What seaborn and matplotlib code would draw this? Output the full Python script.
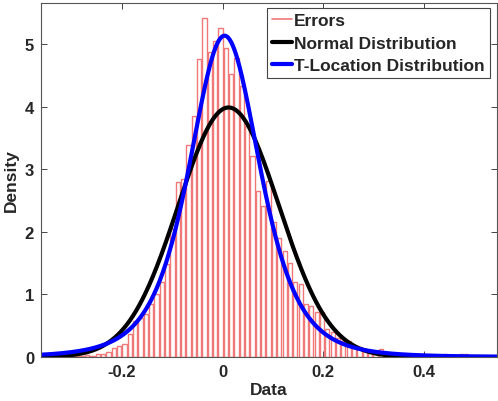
import numpy as np
import pandas as pd
import matplotlib
matplotlib.use("Agg")
import matplotlib.pyplot as plt
import seaborn as sns
from math import gamma, sqrt, pi
from matplotlib.lines import Line2D

# ---- data -----------------------------------------------------------
bin_width = 0.0106
first_center = -0.0357 - 30 * bin_width
hist_density = [
    0.0, 0.0, 0.0, 0.01, 0.01, 0.02, 0.02,            # -0.354 .. -0.290
    0.02, 0.03, 0.02, 0.05, 0.04, 0.08, 0.15, 0.18,   # -0.280 .. -0.205
    0.20, 0.37, 0.58, 0.62, 0.68, 0.85, 1.00, 1.20,   # -0.195 .. -0.120
    1.48, 2.05, 2.80, 2.85, 3.39, 3.86, 4.77, 5.42,   # -0.110 .. -0.036
    4.88, 5.05, 5.26, 4.94, 4.53, 4.78, 4.34, 3.70,   # -0.025 .. 0.049
    3.22, 2.66, 2.42, 2.82, 2.16, 1.90, 1.70, 1.50,   # 0.060 .. 0.134
    1.20, 1.17, 0.85, 0.82, 0.72, 0.72, 0.45, 0.40,   # 0.145 .. 0.219
    0.30, 0.26, 0.26, 0.18, 0.16, 0.10, 0.08, 0.06,   # 0.229 .. 0.303
    0.12, 0.05, 0.03, 0.03, 0.02, 0.02, 0.01, 0.01,   # 0.314 .. 0.388
    0.02, 0.01, 0.01, 0.02, 0.05, 0.01, 0.02, 0.04,   # 0.399 .. 0.473
    0.05, 0.01, 0.01, 0.02, 0.01, 0.01,               # 0.483 .. 0.536
]
centers = first_center + bin_width * np.arange(len(hist_density))
bin_lo = float(centers[0] - bin_width / 2)
bin_hi = float(centers[-1] + bin_width / 2)

# fitted distribution parameters
normal_mu, normal_sigma = 0.012, 0.100
t_mu, t_sigma, t_nu = 0.004, 0.073, 4.0

x_min, x_max = -0.3605, 0.545
x_grid = np.linspace(x_min, x_max, 600)
normal_pdf = np.exp(-0.5 * ((x_grid - normal_mu) / normal_sigma) ** 2) / (normal_sigma * sqrt(2 * pi))
t_const = gamma((t_nu + 1) / 2) / (t_sigma * sqrt(t_nu * pi) * gamma(t_nu / 2))
t_pdf = t_const * (1 + ((x_grid - t_mu) / t_sigma) ** 2 / t_nu) ** (-(t_nu + 1) / 2)

x_ticks = [-0.2, 0, 0.2, 0.4]
x_tick_labels = ["-0.2", "0", "0.2", "0.4"]
y_ticks = [0, 1, 2, 3, 4, 5]
legend_labels = ["Errors", "Normal Distribution", "T-Location Distribution"]

# ---- plot -----------------------------------------------------------
sns.set_theme(style="white")
plt.rcParams["font.family"] = ["Liberation Sans", "DejaVu Sans"]
plt.rcParams["axes.unicode_minus"] = False

fig = plt.figure(figsize=(4.98, 4.02), dpi=100)
ax = fig.add_axes([41 / 498, 44 / 402, 456 / 498, 354 / 402])

hist_df = pd.DataFrame({"Data": centers, "w": np.asarray(hist_density, dtype=float)})
sns.histplot(data=hist_df, x="Data", weights="w", binwidth=bin_width,
             binrange=(bin_lo, bin_hi), stat="count",
             fill=False, shrink=0.8, color="#f07878", linewidth=1.0,
             element="bars", ax=ax)

sns.lineplot(x=x_grid, y=normal_pdf, color="black", linewidth=3.0, ax=ax)
sns.lineplot(x=x_grid, y=t_pdf, color="#0000ff", linewidth=3.0, ax=ax)

ax.set_xlim(x_min, x_max)
ax.set_ylim(0, 5.66)
ax.set_xticks(x_ticks)
ax.set_xticklabels(x_tick_labels)
ax.set_yticks(y_ticks)
ax.set_xlabel("Data", fontsize=12.5, fontweight="bold", labelpad=2)
ax.set_ylabel("Density", fontsize=12.5, fontweight="bold", labelpad=4)
for lab in ax.get_xticklabels() + ax.get_yticklabels():
    lab.set_fontweight("bold")
    lab.set_fontsize(12)

ax.tick_params(direction="in", length=4, width=0.7, color="#444444",
               top=True, right=True, bottom=True, left=True, pad=5)
for s in ax.spines.values():
    s.set_color("#555555")
    s.set_linewidth(0.8)

handles = [Line2D([], [], color="#f07878", lw=1.2),
           Line2D([], [], color="black", lw=3),
           Line2D([], [], color="#0000ff", lw=3)]
leg = ax.legend(handles, legend_labels,
                loc="upper right", bbox_to_anchor=(490 / 498, 393 / 402),
                bbox_transform=fig.transFigure, borderaxespad=0,
                fancybox=False, framealpha=1, edgecolor="#444444",
                prop={"weight": "bold", "size": 12.5}, handlelength=1.15,
                labelspacing=0.42, borderpad=0.3, handletextpad=0.1)
leg.get_frame().set_linewidth(0.8)

fig.savefig("out.png", dpi=100)
